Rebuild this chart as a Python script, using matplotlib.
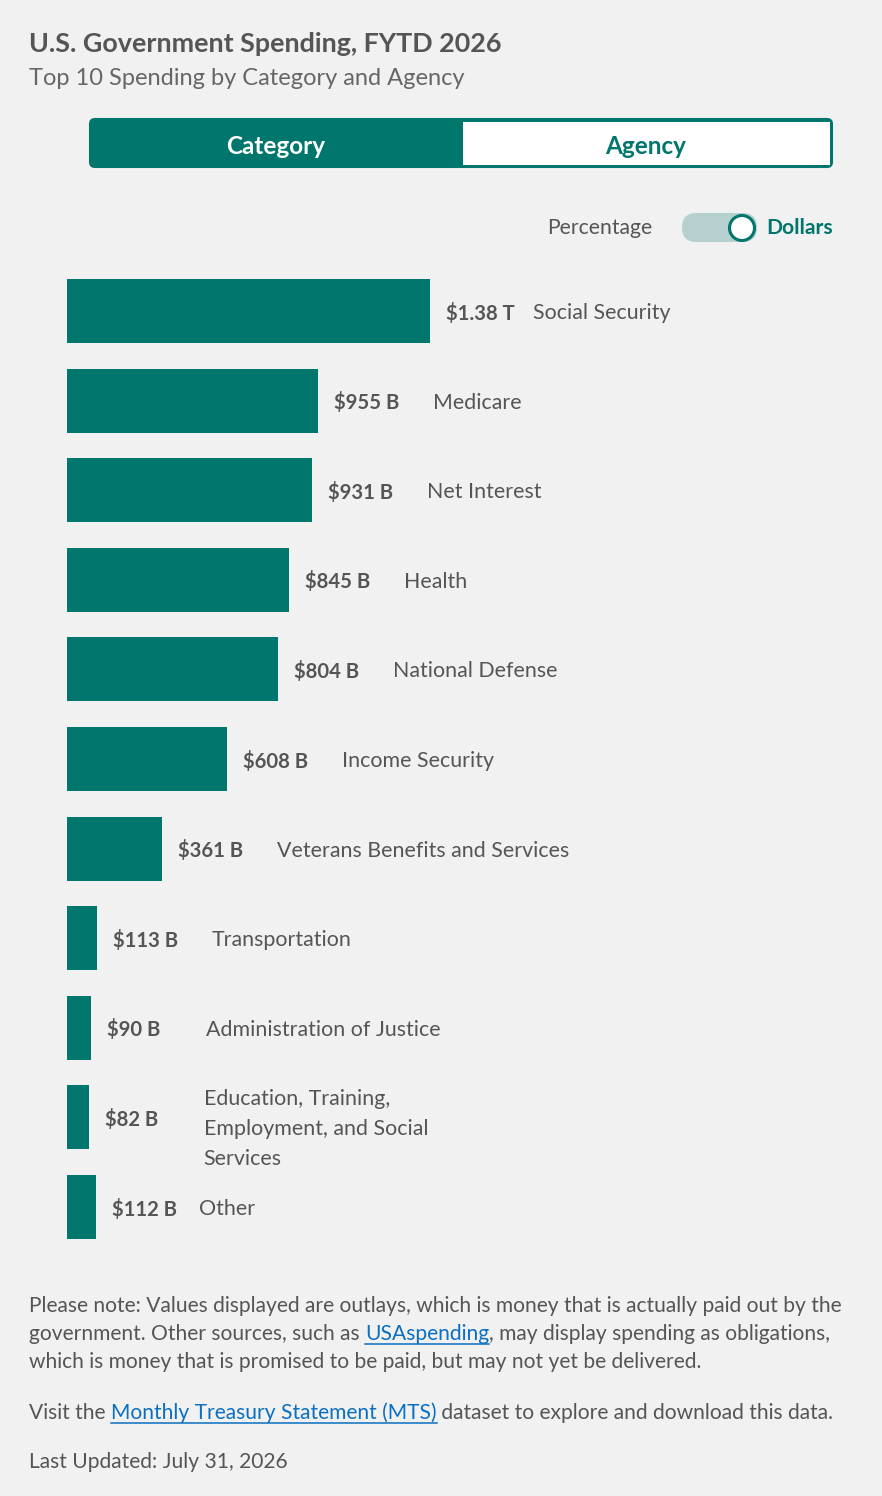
import matplotlib
matplotlib.use("Agg")
import matplotlib.pyplot as plt
from matplotlib.patches import FancyBboxPatch, Rectangle, Circle

# spending by category, FYTD 2026 (billions of dollars)
categories = [
    "Social Security", "Medicare", "Net Interest", "Health", "National Defense",
    "Income Security", "Veterans Benefits and Services", "Transportation",
    "Administration of Justice", "Education, Training,\nEmployment, and Social\nServices",
    "Other",
]
spending = [1380, 955, 931, 845, 804, 608, 361, 113, 90, 82, 112]
value_labels = ["$1.38 T", "$955 B", "$931 B", "$845 B", "$804 B", "$608 B",
                "$361 B", "$113 B", "$90 B", "$82 B", "$112 B"]

TEAL = "#00766c"
GRAY = "#555555"
BG = "#f1f1f1"
LINK = "#0b6fc2"
FONT = ["Lato", "DejaVu Sans"]

plt.rcParams["font.family"] = FONT

W, H = 882, 1496
fig = plt.figure(figsize=(W / 100, H / 100), dpi=100, facecolor=BG)

# overlay axes in pixel coordinates for the header / footer
bg = fig.add_axes([0, 0, 1, 1])
bg.set_xlim(0, W)
bg.set_ylim(H, 0)
bg.axis("off")
bg.set_facecolor(BG)

bg.text(29, 52, "U.S. Government Spending, FYTD 2026", fontsize=19.4,
        weight="bold", color=GRAY, va="baseline")
bg.text(29, 85, "Top 10 Spending by Category and Agency", fontsize=17,
        color="#666666", va="baseline")

# Category / Agency toggle
bg.add_patch(FancyBboxPatch((90, 119), 742, 48, boxstyle="round,pad=0,rounding_size=5",
                            facecolor=TEAL, edgecolor=TEAL, lw=1.5))
bg.add_patch(Rectangle((463, 121.5), 367, 43, facecolor="white", edgecolor="none"))
bg.text(276, 146, "Category", fontsize=17.5, weight="bold", color="white",
        ha="center", va="center")
bg.text(646, 146, "Agency", fontsize=17.5, weight="bold", color=TEAL,
        ha="center", va="center")

# Percentage / Dollars switch
bg.text(652, 228, "Percentage", fontsize=15.2, color=GRAY, ha="right", va="center")
bg.add_patch(FancyBboxPatch((682, 213), 75, 29, boxstyle="round,pad=0,rounding_size=14.5",
                            facecolor="#b5d0cf", edgecolor="none"))
bg.add_patch(Circle((742, 228), 12.5, facecolor="white", edgecolor=TEAL, lw=2.2))
bg.text(766, 228, "Dollars", fontsize=15.2, weight="bold", color=TEAL, va="center")

# bar chart
n = len(categories)
top, step = 311, 89.6
ax_top = top - step / 2
ax_h = step * n
xmax = 3000
ax_w = 363 * xmax / 1380
ax = fig.add_axes([67 / W, 1 - (ax_top + ax_h) / H, ax_w / W, ax_h / H])
ax.patch.set_alpha(0)
ax.barh(range(n), spending, height=64 / step, color=TEAL)
ax.set_xlim(0, xmax)
ax.set_ylim(n - 0.5, -0.5)
ax.axis("off")

for i, (v, lab, cat) in enumerate(zip(spending, value_labels, categories)):
    ax.annotate(lab, (v, i), xytext=(16 * 0.72, -1.5), textcoords="offset points",
                fontsize=14.6, weight="bold", color=GRAY, va="center")
    gap = 103 if lab in ("$1.38 T", "$112 B") else 115
    dy = -12 if "\n" in cat else -2
    ax.annotate(cat, (v, i), xytext=(gap * 0.72, dy * 0.72), textcoords="offset points",
                fontsize=15.4, color=GRAY, va="center", linespacing=1.62)

# footnote with inline links
fig.canvas.draw()
renderer = fig.canvas.get_renderer()


def rich_line(x, y, parts, size=15.1):
    for s, is_link in parts:
        t = bg.text(x, y, s, fontsize=size, color=LINK if is_link else GRAY,
                    va="baseline")
        w = t.get_window_extent(renderer).width
        if is_link:
            bg.plot([x, x + w], [y + 4, y + 4], color=LINK, lw=1.1)
        x += w


rich_line(29, 1312, [("Please note: Values displayed are outlays, which is money that is actually paid out by the", False)])
rich_line(29, 1340, [("government. Other sources, such as ", False), ("USAspending", True),
                     (", may display spending as obligations,", False)])
rich_line(29, 1368, [("which is money that is promised to be paid, but may not yet be delivered.", False)])
rich_line(29, 1419, [("Visit the ", False), ("Monthly Treasury Statement (MTS)", True),
                     (" dataset to explore and download this data.", False)])
rich_line(29, 1468, [("Last Updated: July 31, 2026", False)])

fig.savefig("out.png", dpi=100, facecolor=BG)
